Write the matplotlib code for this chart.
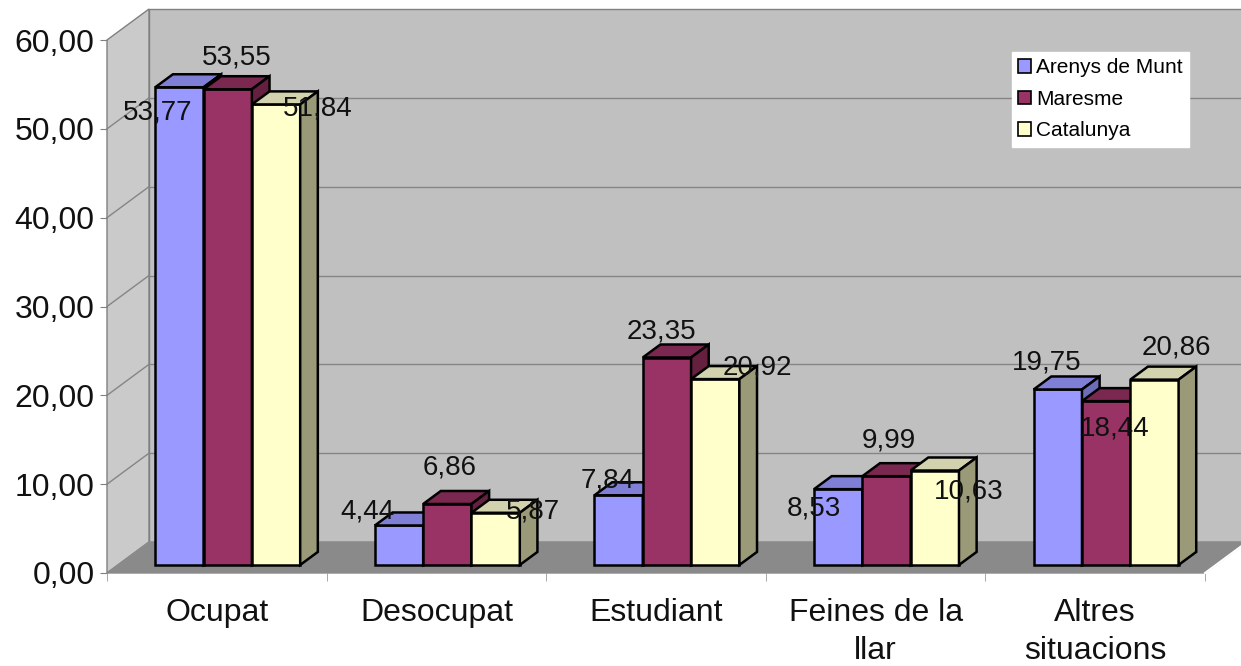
import matplotlib.pyplot as plt
from matplotlib.patches import Polygon, Patch

plt.rcParams['font.family'] = ['Liberation Sans', 'DejaVu Sans']

# dades
categories = ['Ocupat', 'Desocupat', 'Estudiant', 'Feines de la\nllar', 'Altres\nsituacions']
series = ['Arenys de Munt', 'Maresme', 'Catalunya']
arenys = [53.77, 4.44, 7.84, 8.53, 19.75]
maresme = [53.55, 6.86, 23.35, 9.99, 18.44]
catalunya = [51.84, 5.87, 20.92, 10.63, 20.86]
yticks = [0, 10, 20, 30, 40, 50, 60]

values = [arenys, maresme, catalunya]

# colors: front, top, side
face_cols = ['#9999ff', '#993366', '#ffffcc']
top_cols = ['#7f7fd6', '#7a2850', '#d2d2ae']
side_cols = ['#6d6db8', '#66203f', '#9a9a78']

# label nudges in pixels (dx right, dy down), per series / category
nudge = [
    [(-22, 25), (-32, -14), (-11, -15), (-24, 19), (-11, -27)],
    [(9, -32), (2, -37), (-5, -26), (2, -36), (9, 27)],
    [(42, 4), (37, -1), (42, -12), (34, 21), (22, -32)],
]

W, H = 1241, 666
fig = plt.figure(figsize=(W / 100, H / 100), dpi=100)
fig.patch.set_facecolor('white')
ax = fig.add_axes([107 / W, (H - 573) / H, 1098 / W, 533 / H])
ax.set_xlim(-0.5, 4.5)
ax.set_ylim(0, 60)
ax.patch.set_alpha(0)
for s in ax.spines.values():
    s.set_visible(False)

# depth offset: px -> data units
DX, DY = 42, 31
ddx = DX / (1098 / 5)
ddy = DY / (533 / 60)


def P(x, y, d):
    return (x + d * ddx, y + d * ddy)


def poly(pts, fc, ec='#808080', lw=1.0, z=1):
    p = Polygon(pts, closed=True, facecolor=fc, edgecolor=ec, lw=lw,
                zorder=z, clip_on=False, joinstyle='miter')
    ax.add_patch(p)


x0, x1, ytop = -0.5, 4.5, 60
# back wall
poly([P(x0, 0, 1), P(x1 + 0.3, 0, 1), P(x1 + 0.3, ytop, 1), P(x0, ytop, 1)], '#c0c0c0')
# left wall
poly([P(x0, 0, 0), P(x0, 0, 1), P(x0, ytop, 1), P(x0, ytop, 0)], '#cacaca')
# gridlines
for v in yticks[1:-1]:
    a, b = P(x0, v, 0), P(x0, v, 1)
    ax.plot([a[0], b[0]], [a[1], b[1]], color='#858585', lw=1, zorder=1.5, clip_on=False)
    c, e = P(x0, v, 1), P(x1 + 0.3, v, 1)
    ax.plot([c[0], e[0]], [c[1], e[1]], color='#858585', lw=1, zorder=1.5, clip_on=False)
# floor
poly([P(x0, 0, 0), P(x1, 0, 0), P(x1, 0, 1), P(x0, 0, 1)], '#8a8a8a', ec='#8a8a8a', z=2)
a, b = P(x1, 0, 0), P(x1, 0, 1)
ax.plot([a[0], b[0]], [a[1], b[1]], color='white', lw=1.5, zorder=2.1, clip_on=False)

# bars
bw = 0.22
d0, d1 = 0.26, 0.68
for c in range(len(categories)):
    for s in range(len(series)):
        h = values[s][c]
        xa = c + (s - 1) * bw - bw / 2
        xb = xa + bw
        z = 3 + c + s * 0.1
        poly([P(xa, 0, d0), P(xb, 0, d0), P(xb, h, d0), P(xa, h, d0)], face_cols[s], 'black', 1.8, z)
        poly([P(xa, h, d0), P(xb, h, d0), P(xb, h, d1), P(xa, h, d1)], top_cols[s], 'black', 1.8, z)
        poly([P(xb, 0, d0), P(xb, 0, d1), P(xb, h, d1), P(xb, h, d0)], side_cols[s], 'black', 1.8, z)

# data labels
for s in range(len(series)):
    for c in range(len(categories)):
        h = values[s][c]
        xc = c + (s - 1) * bw
        nx, ny = nudge[s][c]
        ax.annotate(f'{h:.2f}'.replace('.', ','), xy=P(xc, h, d0),
                    xytext=(nx, -ny), textcoords='offset pixels',
                    ha='center', va='center', fontsize=20, color='#111111',
                    zorder=20, annotation_clip=False)

# axes ticks
ax.set_yticks(yticks)
ax.set_yticklabels([f'{v:.2f}'.replace('.', ',') for v in yticks], fontsize=23)
ax.tick_params(axis='y', length=5, color='#808080', pad=4, labelcolor='#111111')
ax.set_xticks(range(len(categories)))
ax.set_xticklabels(categories, fontsize=23, color='#111111', linespacing=1.35)
ax.tick_params(axis='x', which='major', length=0, pad=18)
ax.set_xticks([i - 0.5 for i in range(len(categories) + 1)], minor=True)
ax.tick_params(axis='x', which='minor', length=6, color='#9a9a9a')

# legend
handles = [Patch(facecolor=face_cols[i], edgecolor='black', lw=1.2) for i in range(3)]
leg = fig.legend(handles, series, loc='upper left',
                 bbox_to_anchor=(1012 / W, 1 - 52 / H), fontsize=15,
                 frameon=True, fancybox=False, borderpad=0.3, borderaxespad=0,
                 handlelength=0.6, handleheight=0.6, handletextpad=0.25,
                 labelspacing=0.6)
leg.get_frame().set_facecolor('white')
leg.get_frame().set_edgecolor('white')
leg.get_frame().set_alpha(1)

fig.savefig('out.png', dpi=100)
